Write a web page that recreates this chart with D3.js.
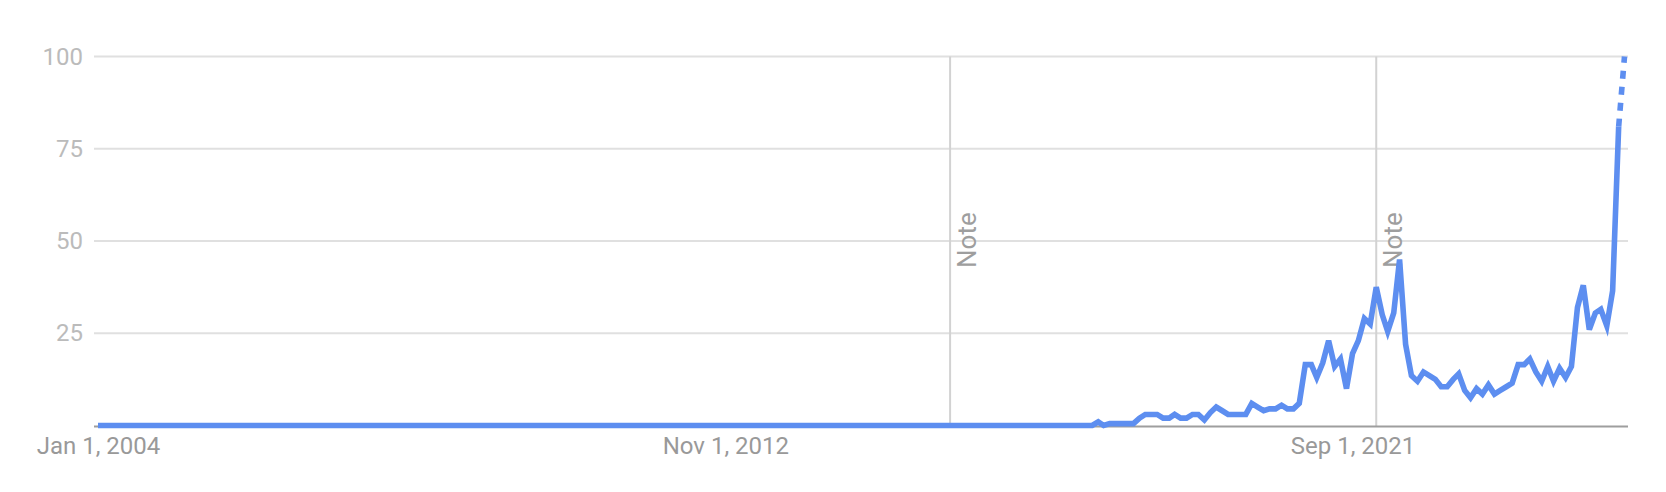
<!DOCTYPE html>
<html>
<head>
<meta charset="utf-8">
<script src="https://cdn.jsdelivr.net/npm/d3@7"></script>
<style>
  body { margin: 0; background: #fff; }
  svg { display: block; }
  text { font-family: Roboto, "Noto Sans", sans-serif; }
</style>
</head>
<body>
<svg id="chart" width="1666" height="492"></svg>
<script>

// monthly interest, one row per year, starting Jan 2004
var startMonth = new Date(2004, 0, 1);
var interest = [
    0, 0, 0, 0, 0, 0, 0, 0, 0, 0, 0, 0,                 // 2004
    0, 0, 0, 0, 0, 0, 0, 0, 0, 0, 0, 0,                 // 2005
    0, 0, 0, 0, 0, 0, 0, 0, 0, 0, 0, 0,                 // 2006
    0, 0, 0, 0, 0, 0, 0, 0, 0, 0, 0, 0,                 // 2007
    0, 0, 0, 0, 0, 0, 0, 0, 0, 0, 0, 0,                 // 2008
    0, 0, 0, 0, 0, 0, 0, 0, 0, 0, 0, 0,                 // 2009
    0, 0, 0, 0, 0, 0, 0, 0, 0, 0, 0, 0,                 // 2010
    0, 0, 0, 0, 0, 0, 0, 0, 0, 0, 0, 0,                 // 2011
    0, 0, 0, 0, 0, 0, 0, 0, 0, 0, 0, 0,                 // 2012
    0, 0, 0, 0, 0, 0, 0, 0, 0, 0, 0, 0,                 // 2013
    0, 0, 0, 0, 0, 0, 0, 0, 0, 0, 0, 0,                 // 2014
    0, 0, 0, 0, 0, 0, 0, 0, 0, 0, 0, 0,                 // 2015
    0, 0, 0, 0, 0, 0, 0, 0, 0, 0, 0, 0,                 // 2016
    0, 0, 0, 0, 0, 0, 0, 0, 0, 0, 0, 0,                 // 2017
    0, 1, 0, 0.5, 0.5, 0.5, 0.5, 0.5, 2, 3, 3, 3,       // 2018
    2, 2, 3, 2, 2, 3, 3, 1.5, 3.5, 5, 4, 3,             // 2019
    3, 3, 3, 6, 5, 4, 4.5, 4.5, 5.5, 4.5, 4.5, 6,       // 2020
    16.5, 16.5, 13, 17, 23, 16, 18, 10, 19.5, 23, 29, 27.5,        // 2021
    37.5, 30, 25.5, 30.5, 45, 22, 13.5, 12, 14.5, 13.5, 12.5, 10.5, // 2022
    10.5, 12.5, 14, 9.5, 7.5, 10, 8.5, 11, 8.5, 9.5, 10.5, 11.5,   // 2023
    16.5, 16.5, 18, 14.5, 12, 16, 12, 15.5, 13, 16, 32, 38,        // 2024
    26, 30.5, 31.5, 27, 36.5, 81, 100                              // 2025 (last month partial)
];

var yTicks = [25, 50, 75, 100];
var xTickDates = [new Date(2004, 0, 1), new Date(2012, 10, 1), new Date(2021, 8, 1)];
var noteDates = [new Date(2016, 0, 1), new Date(2022, 0, 1)];

function drawChart() {
    var svg = d3.select("#chart"),
        left = 94,
        right = 1628,
        top = 56.5,
        bottom = 426.5;

    var data = interest.map(function(v, i) {
        return { date: d3.timeMonth.offset(startMonth, i), value: v };
    });

    var x = d3.scaleTime()
        .domain(d3.extent(data, function(d) { return d.date; }))
        .range([98, 1624.5]);

    var y = d3.scaleLinear()
        .domain([0, 100])
        .range([bottom - 1, top]);

    // horizontal grid
    svg.append("g").selectAll("line")
        .data(yTicks)
        .enter().append("line")
        .attr("x1", left)
        .attr("x2", right)
        .attr("y1", function(d) { return y(d); })
        .attr("y2", function(d) { return y(d); })
        .style("stroke", "#e0e0e0")
        .style("stroke-width", 2);

    // y labels
    var yAxis = svg.append("g")
        .attr("transform", "translate(" + left + ",0)")
        .call(d3.axisLeft(y).tickValues(yTicks).tickSize(0).tickPadding(11));
    yAxis.select(".domain").remove();
    yAxis.selectAll("text")
        .style("font-size", "24px")
        .style("fill", "#bbbbbb");

    // note markers
    var notes = svg.append("g").selectAll("g")
        .data(noteDates)
        .enter().append("g");
    notes.append("line")
        .attr("x1", function(d) { return x(d); })
        .attr("x2", function(d) { return x(d); })
        .attr("y1", y(100))
        .attr("y2", bottom)
        .style("stroke", "#d2d2d2")
        .style("stroke-width", 2);
    notes.append("text")
        .attr("transform", function(d) {
            return "translate(" + (x(d) + 26) + "," + 268 + ") rotate(-90)";
        })
        .style("font-size", "26px")
        .style("fill", "#9e9e9e")
        .text("Note");

    // baseline
    svg.append("line")
        .attr("x1", left)
        .attr("x2", right)
        .attr("y1", bottom)
        .attr("y2", bottom)
        .style("stroke", "#9e9e9e")
        .style("stroke-width", 2);

    // x labels
    var xAxis = svg.append("g")
        .attr("transform", "translate(0," + bottom + ")")
        .call(d3.axisBottom(x).tickValues(xTickDates).tickSize(0).tickPadding(10)
            .tickFormat(d3.timeFormat("%b %-d, %Y")));
    xAxis.select(".domain").remove();
    xAxis.selectAll("text")
        .style("font-size", "24px")
        .style("fill", "#999999");

    var line = d3.line()
        .x(function(d) { return x(d.date); })
        .y(function(d) { return y(d.value); });

    var n = data.length;

    svg.append("path")
        .datum(data.slice(0, n - 1))
        .attr("d", line)
        .style("fill", "none")
        .style("stroke", "#5d8ef0")
        .style("stroke-width", 5.6);

    // last (partial) month dashed
    svg.append("path")
        .datum(data.slice(n - 2))
        .attr("d", line)
        .style("fill", "none")
        .style("stroke", "#5d8ef0")
        .style("stroke-width", 5.6)
        .style("stroke-dasharray", "8,8");
}

drawChart();
</script>
</body>
</html>
